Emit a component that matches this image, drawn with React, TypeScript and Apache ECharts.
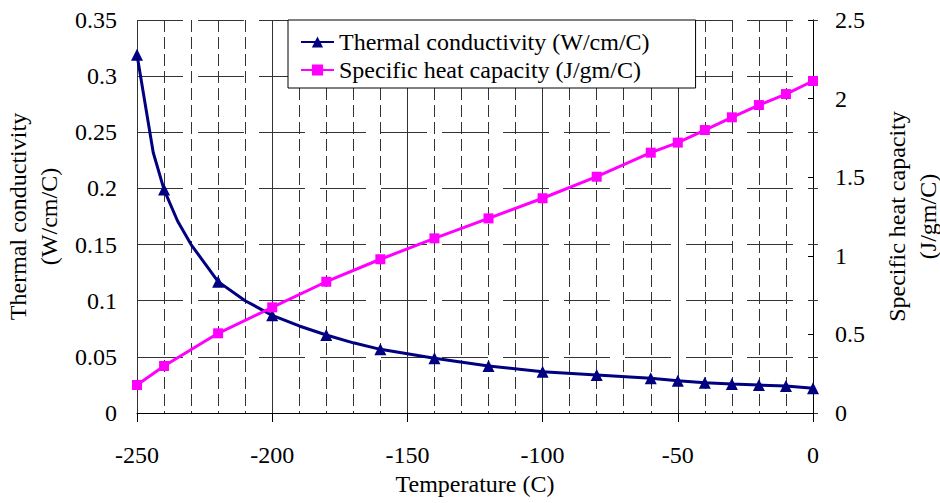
import React, { useEffect, useRef } from "react";
import * as echarts from "echarts";

const FONT = "Liberation Serif";

// Thermal conductivity (W/cm/C) vs temperature (C)
const tcTemps = [-250, -244, -240, -235, -230, -220, -210, -200, -190, -180, -170, -160, -140, -120, -100, -80, -60, -50, -40, -30, -20, -10, 0];
const tcValues = [0.319, 0.232, 0.199, 0.171, 0.15, 0.117, 0.1, 0.087, 0.0775, 0.0695, 0.0625, 0.0567, 0.0487, 0.0419, 0.0368, 0.0338, 0.0309, 0.0288, 0.027, 0.0258, 0.0249, 0.024, 0.022];
const tcMarked = [true, false, true, false, false, true, false, true, false, true, false, true, true, true, true, true, true, true, true, true, true, true, true];

// Specific heat capacity (J/gm/C) vs temperature (C)
const shTemps = [-250, -240, -220, -200, -180, -160, -140, -120, -100, -80, -60, -50, -40, -30, -20, -10, 0];
const shValues = [0.178, 0.299, 0.507, 0.672, 0.835, 0.978, 1.111, 1.238, 1.366, 1.503, 1.656, 1.72, 1.8, 1.881, 1.959, 2.029, 2.112];

const seriesNames = ["Thermal conductivity (W/cm/C)", "Specific heat capacity (J/gm/C)"];

export default function App() {
  const ref = useRef<HTMLDivElement>(null);
  useEffect(() => {
    document.body.style.margin = "0";
    const chart = echarts.init(ref.current!, null, { renderer: "svg" });
    const txt = { fontFamily: FONT, fontSize: 24, color: "#000" };
    chart.setOption({
      animation: false,
      backgroundColor: "#fff",
      grid: { left: 137, right: 127, top: 20, bottom: 90, outerBoundsMode: "none", containLabel: false },
      legend: {
        left: 288,
        top: 20,
        orient: "vertical",
        padding: [10, 46, 6, 12],
        itemWidth: 33,
        itemHeight: 14,
        itemGap: 4,
        borderColor: "#000",
        borderWidth: 1,
        borderRadius: 0,
        backgroundColor: "#fff",
        textStyle: { ...txt },
        data: seriesNames,
      },
      xAxis: {
        type: "value",
        min: -250,
        max: 0,
        interval: 50,
        name: "Temperature (C)",
        nameLocation: "middle",
        nameGap: 55,
        nameTextStyle: { ...txt },
        axisLine: { show: true, onZero: false, lineStyle: { color: "#000", width: 1 } },
        axisTick: { show: true, length: 9, lineStyle: { color: "#000" } },
        axisLabel: { ...txt, margin: 30 },
        splitLine: { show: true, lineStyle: { color: "#333", width: 1, type: "solid" } },
        minorTick: { show: false, splitNumber: 5 },
        minorSplitLine: { show: true, lineStyle: { color: "#333", width: 1, type: [12, 5] } },
      },
      yAxis: [
        {
          type: "value",
          position: "left",
          min: 0,
          max: 0.35,
          interval: 0.05,
          name: "Thermal conductivity\n(W/cm/C)",
          nameLocation: "middle",
          nameGap: 70,
          nameRotate: 90,
          nameTextStyle: { ...txt, lineHeight: 31 },
          axisLine: { show: true, lineStyle: { color: "#333", width: 1 } },
          axisTick: { show: true, inside: true, length: 5, lineStyle: { color: "#333" } },
          axisLabel: { ...txt, margin: 20 },
          splitLine: { show: true, lineStyle: { color: "#333", width: 1, type: [46, 15] } },
        },
        {
          type: "value",
          position: "right",
          min: 0,
          max: 2.5,
          interval: 0.5,
          name: "Specific heat capacity\n(J/gm/C)",
          nameLocation: "middle",
          nameGap: 68,
          nameRotate: 90,
          nameTextStyle: { ...txt, lineHeight: 31 },
          axisLine: { show: true, lineStyle: { color: "#000", width: 1 } },
          axisTick: { show: true, inside: true, length: 5, lineStyle: { color: "#000" } },
          axisLabel: { ...txt, margin: 22 },
          splitLine: { show: false },
        },
      ],
      series: [
        {
          name: seriesNames[0],
          type: "line",
          yAxisIndex: 0,
          symbol: "triangle",
          symbolSize: 12,
          data: tcTemps.map((t, i) => ({
            value: [t, tcValues[i]],
            symbol: tcMarked[i] ? "triangle" : "none",
          })),
          lineStyle: { color: "#000080", width: 3 },
          itemStyle: { color: "#000080" },
          z: 3,
        },
        {
          name: seriesNames[1],
          type: "line",
          yAxisIndex: 1,
          symbol: "rect",
          symbolSize: 10,
          data: shTemps.map((t, i) => [t, shValues[i]]),
          lineStyle: { color: "#ff00ff", width: 3 },
          itemStyle: { color: "#ff00ff" },
          z: 3,
        },
      ],
    });
    return () => chart.dispose();
  }, []);
  return <div ref={ref} style={{ width: 940, height: 503 }} />;
}
